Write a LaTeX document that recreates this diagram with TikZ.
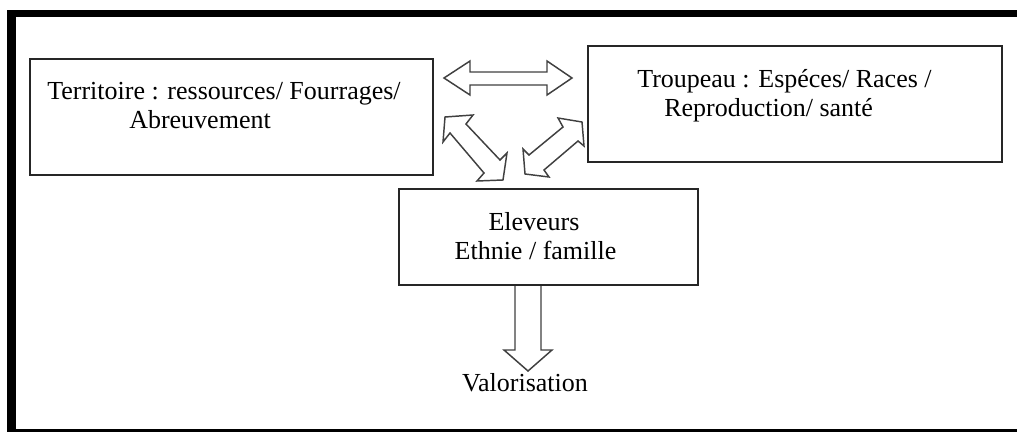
\documentclass[tikz,border=0pt]{standalone}
\usepackage{fontspec}
\setmainfont{Liberation Serif}
\begin{document}
\begin{tikzpicture}[x=0.75pt,y=-0.75pt,
  box/.style={draw=black!85, line width=1.5pt, fill=white, rectangle, inner sep=0pt},
  lbl/.style={inner sep=0pt, font=\fontsize{19.5pt}{23pt}\selectfont, text=black},
  blockarrow/.style={draw=black!75, line width=1.1pt, fill=white, line join=miter}]
\useasboundingbox (0,0) rectangle (1017,432);
% outer frame
\fill[black] (7,10) rectangle (1017,17);
\fill[black] (7,10) rectangle (16,432);
\fill[black] (7,428.5) rectangle (1017,431.5);
% boxes
\node[box, minimum width=302.25pt, minimum height=87pt] (terr) at (231.5,117) {};
\node[box, minimum width=310.5pt, minimum height=87pt] (troup) at (795,104) {};
\node[box, minimum width=224.25pt, minimum height=72pt] (elev) at (548.5,237) {};
% texts
\node[lbl, anchor=base west] (t1) at (47,99) {Territoire : ressources/ Fourrages/};
\node[lbl, anchor=base west] (t2) at (129,128) {Abreuvement};
\node[lbl, anchor=base west] (p1) at (637,87) {Troupeau : Espéces/ Races /};
\node[lbl, anchor=base west] (p2) at (664,116) {Reproduction/ santé};
\node[lbl, anchor=base] (e1) at (534,230) {Eleveurs};
\node[lbl, anchor=base] (e2) at (535.5,259.5) {Ethnie / famille};
\node[lbl, anchor=base] (val) at (525,391.5) {Valorisation};
% horizontal double arrow
\draw[blockarrow] (444,78) -- (470,61) -- (470,72) -- (547,72) -- (547,61) -- (572,78)
  -- (547,95) -- (547,85) -- (470,85) -- (470,95) -- cycle;
% left diagonal double arrow
\draw[blockarrow] (445,117) -- (473,115) -- (466,124) -- (500,160) -- (507,153) -- (503,180)
  -- (477,181) -- (484,173) -- (450,133) -- (443,142) -- cycle;
% right diagonal double arrow
\draw[blockarrow] (582,122) -- (584,146) -- (578,141) -- (544,170) -- (549,177) -- (525,174)
  -- (523,149) -- (529,155) -- (563,127) -- (558,118) -- cycle;
% down arrow
\draw[blockarrow] (elev.south -| 515,0) -- (515,350) -- (504,350) -- (528,371) -- (552,350)
  -- (541,350) -- (elev.south -| 541,0);
\end{tikzpicture}
\end{document}
